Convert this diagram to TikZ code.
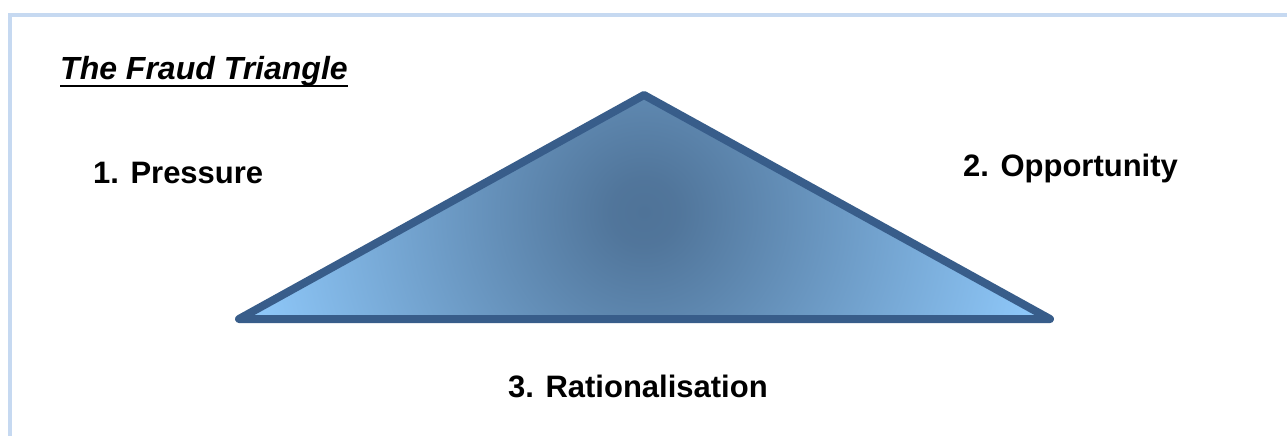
\documentclass[tikz,border=0pt]{standalone}
\usepackage{fontspec}
\setmainfont{Liberation Sans}
\definecolor{framecol}{HTML}{C6D9F1}
\definecolor{tristroke}{HTML}{385D8A}
\definecolor{tridark}{HTML}{4F7398}
\definecolor{trilight}{HTML}{8DC6F7}
\pgfdeclareradialshading{trishade}{\pgfpoint{0bp}{0bp}}{color(0bp)=(tridark); color(2bp)=(tridark!97!trilight); color(24bp)=(trilight); color(50bp)=(trilight)}
\tikzset{
  lbl/.style={anchor=base west, inner sep=0pt, font=\bfseries\fontsize{31}{37}\selectfont},
}
\begin{document}
\begin{tikzpicture}[x=1pt,y=-1pt]
\useasboundingbox (0,0) rectangle (1287,436);
\fill[white] (0,0) rectangle (1287,436);
% frame
\draw[framecol, line width=4pt] (10,436) -- (10,15) -- (1287,15);
% triangle
\coordinate (apex) at (644,95);
\coordinate (left) at (239,319);
\coordinate (right) at (1050,319);
\coordinate (shadecenter) at (644,212);
\begin{scope}
  \clip (apex) -- (right) -- (left) -- cycle;
  \shade[shading=trishade] ([shift={(-410,-410)}]shadecenter) rectangle ([shift={(410,410)}]shadecenter);
\end{scope}
\draw[tristroke, line width=8pt, line join=round]
  (apex) -- (right) -- (left) -- cycle;
% texts
\node[lbl, font=\bfseries\itshape\fontsize{32}{38}\selectfont] (title) at (60,80) {The Fraud Triangle};
\draw[line width=2.5pt] ([yshift=-6pt]title.base west) -- ([yshift=-6pt]title.base east);
\node[lbl] (pressure) at (93,183) {1. Pressure};
\node[lbl] (opportunity) at (963,176) {2. Opportunity};
\node[lbl] (rational) at (508,397) {3. Rationalisation};
\end{tikzpicture}
\end{document}
